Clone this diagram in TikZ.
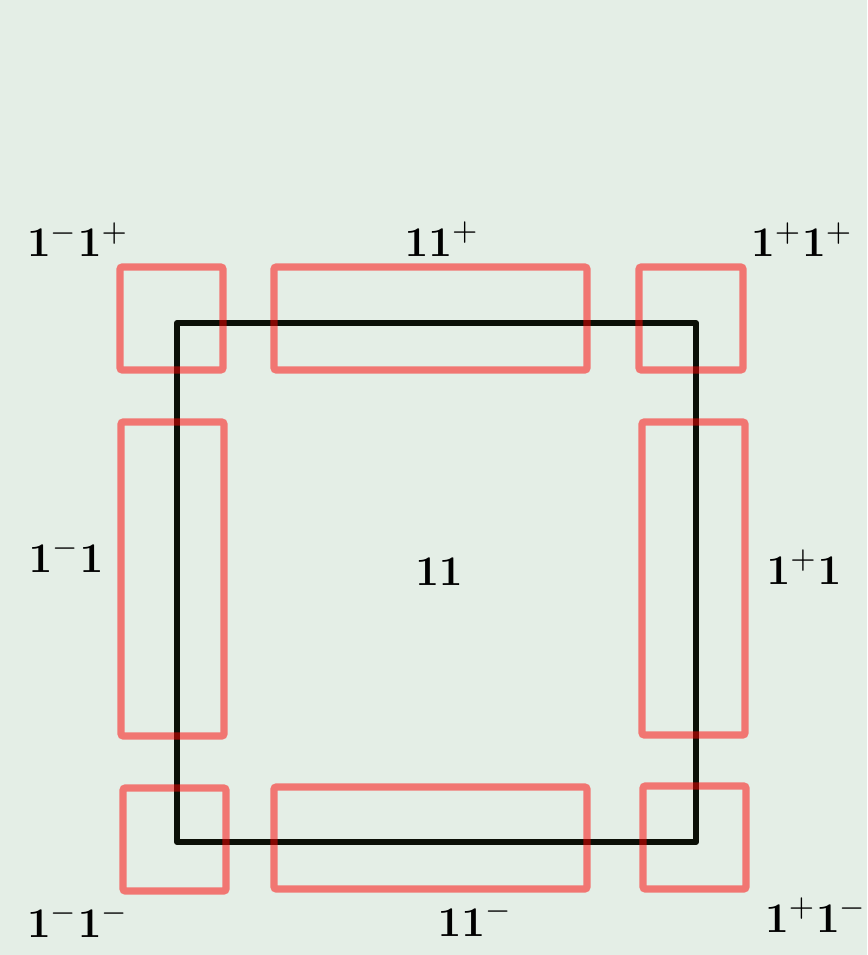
\documentclass[tikz,border=0pt]{standalone}
\usepackage{amsmath}
\definecolor{bgcol}{HTML}{E4EEE6}
\definecolor{framecol}{HTML}{0B0F07}
\tikzset{
  patch/.style={draw=red, opacity=.5, line width=2pt, rounded corners=0.6pt},
  frame/.style={draw=framecol, line width=1.7pt, line join=round},
  lbl/.style={anchor=base, inner sep=0pt, font=\fontsize{12.2}{15}\selectfont}
}
\begin{document}
\begin{tikzpicture}[x=0.01cm, y=-0.01cm]

  % --- background and bounding box ---
  \fill[bgcol] (0,0) rectangle (867,955);
  \useasboundingbox (0,0) rectangle (867,955);

  % --- the square ---
  \draw[frame] (177,323) rectangle (696,842);

  % --- corner patches ---
  \draw[patch] (120,267) rectangle (223,370);
  \draw[patch] (639,267) rectangle (743,370);
  \draw[patch] (123,788) rectangle (226,891);
  \draw[patch] (643,786) rectangle (746,889);

  % --- edge patches ---
  \draw[patch] (274,267) rectangle (587,370);
  \draw[patch] (274,787) rectangle (587,889);
  \draw[patch] (121,422) rectangle (224,736);
  \draw[patch] (642,422) rectangle (745,735);

  % --- labels ---
  \node[lbl] (mp) at (78,257)  {$\mathbf{1}^{-}\mathbf{1}^{+}$};
  \node[lbl] (zp) at (442,257) {$\mathbf{11}^{+}$};
  \node[lbl] (pp) at (802,257) {$\mathbf{1}^{+}\mathbf{1}^{+}$};
  \node[lbl] (mz) at (66,572)  {$\mathbf{1}^{-}\mathbf{1}$};
  \node[lbl] (zz) at (439,585) {$\mathbf{11}$};
  \node[lbl] (pz) at (804,584) {$\mathbf{1}^{+}\mathbf{1}$};
  \node[lbl] (mm) at (78,937)  {$\mathbf{1}^{-}\mathbf{1}^{-}$};
  \node[lbl] (zm) at (475,936) {$\mathbf{11}^{-}$};
  \node[lbl] (pm) at (816,932) {$\mathbf{1}^{+}\mathbf{1}^{-}$};

\end{tikzpicture}
\end{document}
